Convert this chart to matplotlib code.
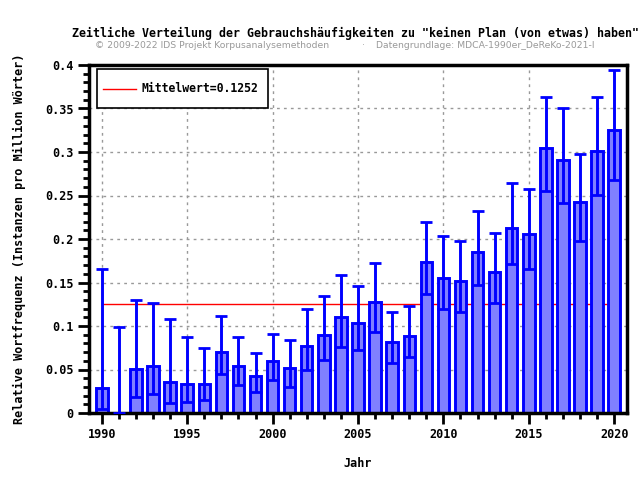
import matplotlib
matplotlib.use("Agg")
import matplotlib.pyplot as plt
import numpy as np
from matplotlib.ticker import MultipleLocator
from matplotlib.patches import Rectangle
from matplotlib.lines import Line2D

years = list(range(1990, 2021))
values = [0.029, 0.0, 0.0502, 0.0537, 0.036, 0.0337, 0.0337, 0.0705, 0.0537, 0.0421,
          0.0594, 0.0513, 0.0774, 0.090, 0.1107, 0.1038, 0.128, 0.082, 0.0889, 0.1739,
          0.1556, 0.152, 0.1854, 0.1625, 0.213, 0.206, 0.305, 0.2912, 0.243, 0.3015, 0.3256]
err_low = [0.0046, 0.0, 0.0188, 0.0222, 0.0119, 0.013, 0.0153, 0.0452, 0.0326, 0.0245,
           0.0383, 0.0303, 0.0498, 0.0613, 0.0762, 0.0728, 0.0935, 0.0579, 0.0648, 0.137,
           0.120, 0.1165, 0.1477, 0.1268, 0.1716, 0.166, 0.2555, 0.2417, 0.198, 0.251, 0.268]
err_high = [0.166, 0.099, 0.130, 0.127, 0.108, 0.0877, 0.075, 0.112, 0.0877, 0.0693,
            0.0912, 0.0843, 0.120, 0.134, 0.159, 0.1463, 0.1727, 0.1161, 0.123, 0.220,
            0.204, 0.198, 0.2325, 0.207, 0.2647, 0.258, 0.3636, 0.351, 0.298, 0.3636, 0.3946]
mean_value = 0.1252

title = 'Zeitliche Verteilung der Gebrauchshäufigkeiten zu "keinen Plan (von etwas) haben"'
sub_left = '© 2009-2022 IDS Projekt Korpusanalysemethoden'
sub_mid = '·'
sub_right = 'Datengrundlage: MDCA-1990er_DeReKo-2021-I'
xlabel = 'Jahr'
ylabel = 'Relative Wortfrequenz (Instanzen pro Million Wörter)'
ytick_labels = ['0', '0.05', '0.1', '0.15', '0.2', '0.25', '0.3', '0.35', '0.4']
legend_label = 'Mittelwert=%.4f' % mean_value

mono = 'DejaVu Sans Mono'

fig = plt.figure(figsize=(6.4, 4.8), dpi=100)
ax = fig.add_axes([89/640, 1-413/480, (627-89)/640, (413-65)/480])

v = np.array(values)
lo = v - np.array(err_low)
hi = np.array(err_high) - v

ax.plot([years[0], years[-1]], [mean_value, mean_value], color='red', lw=1.0, zorder=1)
ax.bar(years, values, width=0.67, color='#8080ff', edgecolor='#0000ff', linewidth=2.1, zorder=2)
ax.errorbar(years, values, yerr=[lo, hi], fmt='none', ecolor='#0000ff', elinewidth=2.1,
            capsize=4, capthick=2.0, zorder=3)

ax.set_xlim(1989.25, 2020.75)
ax.set_ylim(0, 0.4)
ax.xaxis.set_major_locator(MultipleLocator(5))
ax.xaxis.set_minor_locator(MultipleLocator(1))
ax.yaxis.set_minor_locator(MultipleLocator(0.01))
ax.set_yticks(np.arange(0, 0.401, 0.05))
ax.set_yticklabels(ytick_labels)
ax.tick_params(which='major', length=8, width=2, direction='out', labelsize=8.5, pad=3)
ax.tick_params(which='minor', length=4, width=2, direction='out')
for lab in ax.get_xticklabels() + ax.get_yticklabels():
    lab.set_fontfamily(mono)
    lab.set_fontweight('bold')
for s in ax.spines.values():
    s.set_linewidth(2.5)
ax.grid(True, which='major', color='#999999', linestyle=(0, (2, 3)), linewidth=1, zorder=0)
ax.set_axisbelow(True)

ax.set_xlabel(xlabel, fontfamily=mono, fontweight='bold', fontsize=8.5, labelpad=11)
ax.set_ylabel(ylabel, fontfamily=mono, fontweight='bold', fontsize=8.5, labelpad=14)

# legend box drawn in axes coordinates
def ax_x(px):
    return (px - 89) / 538
def ax_y(py):
    return (413 - py) / 348

ax.add_patch(Rectangle((ax_x(97), ax_y(108)), ax_x(268) - ax_x(97), ax_y(69) - ax_y(108),
                       transform=ax.transAxes, facecolor='white', edgecolor='black',
                       linewidth=1.2, zorder=5))
ax.add_line(Line2D([ax_x(103), ax_x(136)], [ax_y(88.5), ax_y(88.5)], transform=ax.transAxes,
                   color='red', lw=1.0, zorder=6))
ax.text(ax_x(142), ax_y(88.5), legend_label, transform=ax.transAxes, ha='left', va='center',
        fontfamily=mono, fontweight='bold', fontsize=8.3, zorder=6)

fig.text(356/640, 1-33/480, title, ha='center', va='center', fontfamily=mono,
         fontweight='bold', fontsize=8.4)
fig.text(95/640, 1-46/480, sub_left, ha='left', va='center', color='#999999', fontsize=6.7)
fig.text(363/640, 1-46/480, sub_mid, ha='center', va='center', color='#999999', fontsize=6.7)
fig.text(376/640, 1-46/480, sub_right, ha='left', va='center', color='#999999', fontsize=6.7)

fig.savefig('out.png', dpi=100)
